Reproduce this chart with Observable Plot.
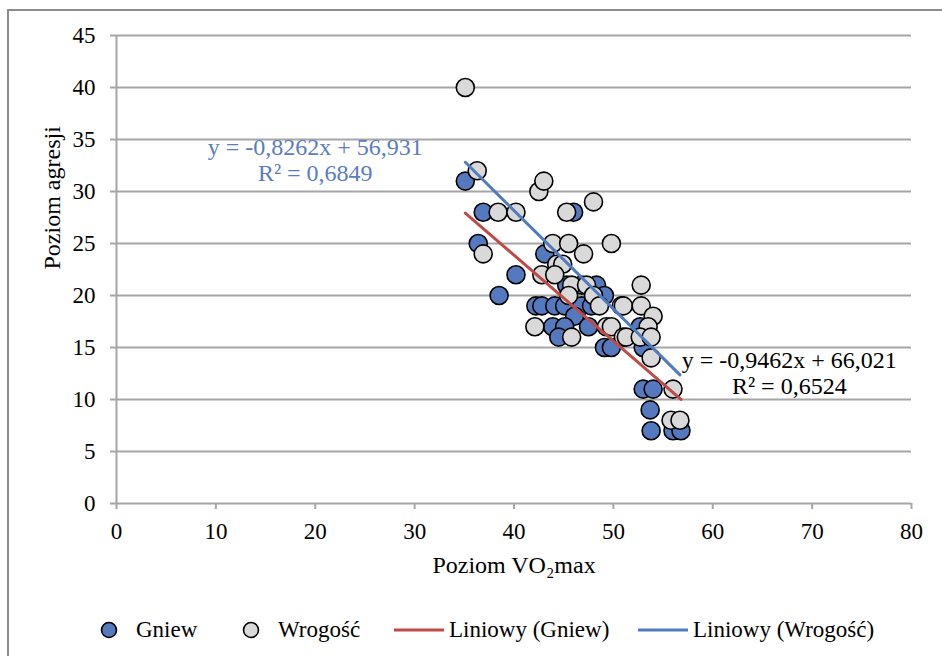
<!DOCTYPE html>
<html>
<head>
<meta charset="utf-8">
<script src="https://cdn.jsdelivr.net/npm/d3@7"></script>
<script src="https://cdn.jsdelivr.net/npm/@observablehq/plot@0.6"></script>
<style>
  html, body { margin: 0; padding: 0; background: #fff; }
  #wrap { position: relative; width: 942px; height: 656px; overflow: hidden; font-family: "Liberation Serif", Tinos, "Times New Roman", "DejaVu Serif", serif; }
  #frame { position: absolute; left: 7px; top: 9px; width: 1000px; height: 700px; border-left: 2px solid #8c8c8c; border-top: 2px solid #8c8c8c; box-sizing: border-box; }
  #chart { position: absolute; left: 0; top: 0; }
  #legend { position: absolute; left: 0; top: 614px; width: 942px; height: 32px; font-size: 23px; color: #000; }
  .item { position: absolute; top: 0; height: 32px; display: flex; align-items: center; white-space: nowrap; }
  .item svg { display: block; }
</style>
</head>
<body>
<div id="wrap">
  <div id="frame"></div>
  <div id="chart"></div>
  <div id="legend"></div>
</div>
<script>
// ---- data ----
const xTicks = [0, 10, 20, 30, 40, 50, 60, 70, 80];
const yTicks = [0, 5, 10, 15, 20, 25, 30, 35, 40, 45];

const seriesNames = ["Gniew", "Wrogość"];

const gniewX = [35.1, 36.9, 36.4, 38.5, 40.2, 42.2, 42.8, 44.1, 43.1, 46.0, 45.3, 46.8, 48.3, 49.1, 45.1, 46.8, 47.8, 46.1, 43.9, 45.1, 47.5, 44.5, 49.1, 49.8, 52.7, 53.0, 53.0, 54.0, 53.7, 53.8, 56.0, 56.8];
const gniewY = [31, 28, 25, 20, 22, 19, 19, 19, 24, 28, 21, 21, 21, 20, 19, 19, 19, 18, 17, 17, 17, 16, 15, 15, 17, 15, 11, 11, 9, 7, 7, 7];

const wrogoscX = [35.1, 36.3, 36.9, 38.4, 40.2, 42.5, 43.0, 48.0, 45.3, 43.9, 45.5, 49.8, 47.0, 44.3, 44.9, 42.8, 44.1, 45.8, 47.3, 45.5, 48.0, 50.8, 48.6, 42.1, 49.3, 49.8, 45.8, 51.0, 52.8, 51.0, 52.8, 54.0, 53.5, 51.3, 52.7, 53.8, 53.8, 56.0, 55.8, 56.7];
const wrogoscY = [40, 32, 24, 28, 28, 30, 31, 29, 28, 25, 25, 25, 24, 23, 23, 22, 22, 21, 21, 20, 20, 19, 19, 17, 17, 17, 16, 16, 21, 19, 19, 18, 17, 16, 16, 16, 14, 11, 8, 8];

// trendline equations as printed on the chart
const trendSlope = [-0.8262, -0.9462];
const trendIntercept = [56.931, 66.021];
const trendR2 = [0.6849, 0.6524];

// equation label anchor positions (data units)
const labelX = [20.0, 67.7];
const labelY = [33.1, 12.6];

// ---- styles ----
const fillColors = ["#5579BE", "#D9D9D9"];
const lineColors = ["#BE4B48", "#4F7CC0"];
const labelColors = ["#5B7CC2", "#000000"];
const gridColor = "#A6A6A6";
const serif = "'Liberation Serif', Tinos, 'Times New Roman', 'DejaVu Serif', serif";

// ---- build tables ----
const pts = [
  ...gniewX.map((x, i) => ({x, y: gniewY[i], s: 0})),
  ...wrogoscX.map((x, i) => ({x, y: wrogoscY[i], s: 1}))
];
const xsBySeries = [gniewX, wrogoscX];
const trendRows = [];
[0, 1].forEach(s => {
  const [x0, x1] = d3.extent(xsBySeries[s]);
  [x0, x1].forEach(x => trendRows.push({s, x, y: trendSlope[s] * x + trendIntercept[s]}));
});
const fmt = (v, d) => v.toFixed(d).replace(".", ",");
const eqRows = [0, 1].map(s => ({
  x: labelX[s], y: labelY[s], s,
  text: `y = ${fmt(trendSlope[s], 4)}x + ${fmt(trendIntercept[s], 3)}\nR² = ${fmt(trendR2[s], 4)}`
}));

const plot = Plot.plot({
  width: 942,
  height: 605,
  marginLeft: 116,
  marginRight: 31,
  marginTop: 35,
  marginBottom: 102,
  style: {fontFamily: serif, fontSize: "23px", color: "#000", background: "transparent", overflow: "visible"},
  x: {domain: [0, 80]},
  y: {domain: [0, 45]},
  marks: [
    Plot.ruleY(yTicks, {stroke: gridColor, strokeWidth: 2}),
    Plot.ruleX([0], {y1: 0, y2: 45, stroke: gridColor, strokeWidth: 2}),
    Plot.axisX({ticks: xTicks, tickSize: 6, tickPadding: 13, stroke: gridColor, strokeWidth: 2, color: "#000", fontSize: 23, fontFamily: serif, label: null, tickFormat: d => String(d)}),
    Plot.axisY({ticks: yTicks, tickSize: 6, tickPadding: 15, stroke: gridColor, strokeWidth: 2, color: "#000", fontSize: 23, fontFamily: serif, label: null, tickFormat: d => String(d)}),
    Plot.dot(pts.filter(d => d.s === 0), {x: "x", y: "y", r: 9, fill: fillColors[0], stroke: "#000", strokeWidth: 1.6}),
    Plot.dot(pts.filter(d => d.s === 1), {x: "x", y: "y", r: 9, fill: fillColors[1], stroke: "#000", strokeWidth: 1.6}),
    Plot.line(trendRows.filter(d => d.s === 0), {x: "x", y: "y", stroke: lineColors[0], strokeWidth: 3}),
    Plot.line(trendRows.filter(d => d.s === 1), {x: "x", y: "y", stroke: lineColors[1], strokeWidth: 3}),
    Plot.text(eqRows, {x: "x", y: "y", text: "text", fill: d => labelColors[d.s], fontSize: 24, fontFamily: serif, lineHeight: 1.1, textAnchor: "middle"}),
    Plot.text(["Poziom agresji"], {frameAnchor: "left", dx: -64, rotate: -90, fontSize: 24, fontFamily: serif, fill: "#000"}),
    Plot.text(["Poziom VO₂max"], {frameAnchor: "bottom", dy: 69, fontSize: 24, fontFamily: serif, fill: "#000"})
  ]
});
document.getElementById("chart").appendChild(plot);

// ---- legend ----
const legendItems = [
  {label: "Gniew", kind: "dot", color: fillColors[0], left: 100},
  {label: "Wrogość", kind: "dot", color: fillColors[1], left: 242},
  {label: "Liniowy (Gniew)", kind: "line", color: lineColors[0], left: 394},
  {label: "Liniowy (Wrogość)", kind: "line", color: lineColors[1], left: 638}
];
const leg = document.getElementById("legend");
legendItems.forEach(it => {
  const div = document.createElement("div");
  div.className = "item";
  div.style.left = it.left + "px";
  const w = it.kind === "dot" ? 18 : 50;
  const sw = d3.create("svg").attr("width", w).attr("height", 20);
  if (it.kind === "dot") {
    sw.append("circle").attr("cx", 9).attr("cy", 10).attr("r", 7.5).attr("fill", it.color).attr("stroke", "#000").attr("stroke-width", 1.6);
    sw.style("margin-right", "18px");
  } else {
    sw.append("line").attr("x1", 0).attr("x2", w).attr("y1", 10).attr("y2", 10).attr("stroke", it.color).attr("stroke-width", 3);
    sw.style("margin-right", "5px");
  }
  div.appendChild(sw.node());
  const span = document.createElement("span");
  span.textContent = it.label;
  div.appendChild(span);
  leg.appendChild(div);
});
</script>
</body>
</html>
